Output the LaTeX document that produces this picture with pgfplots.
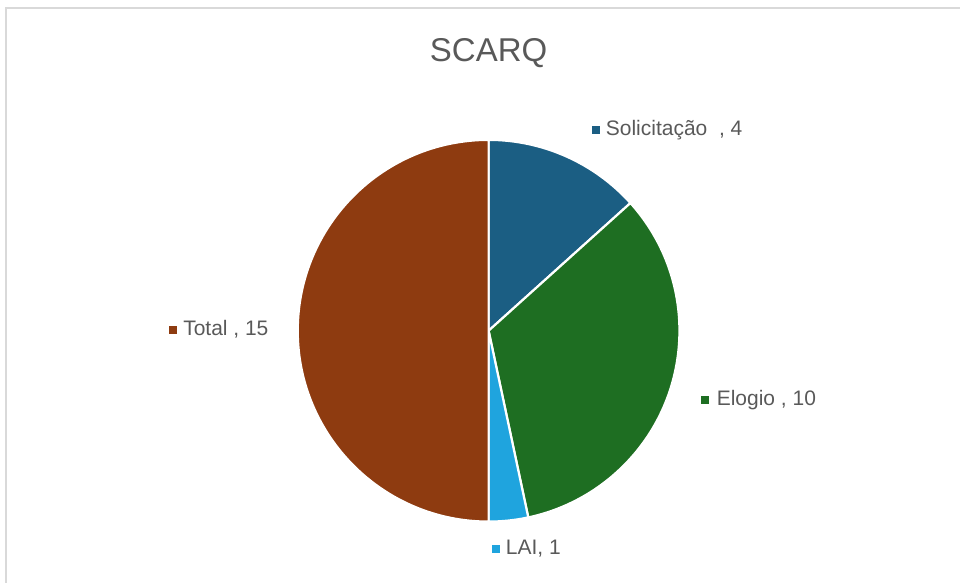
\documentclass[border=0pt]{standalone}
\usepackage{pgfplots}
\pgfplotsset{compat=1.18}
\usepackage{fontspec}
\setmainfont{Liberation Sans}
\definecolor{cSol}{HTML}{1B5E83}
\definecolor{cElo}{HTML}{1E6E22}
\definecolor{cLai}{HTML}{1FA4DE}
\definecolor{cTot}{HTML}{8E3B10}
\definecolor{txt}{HTML}{595959}
\definecolor{frame}{HTML}{D9D9D9}

\begin{document}
\begin{tikzpicture}
\begin{axis}[
  scale only axis,
  width=480.5pt, height=291.5pt,
  xmin=0, xmax=961, ymin=0, ymax=583,
  hide axis, clip=false,
  ]
  % invisible corners so the page keeps the reference size
  \addplot[draw=none, forget plot] coordinates {(0,0) (961,583)};
  % frame
  \draw[frame, line width=0.8pt] (axis cs:6,0) -- (axis cs:6,575) -- (axis cs:961,575);
  % pie: values 4, 10, 1, 15 of 30 -> 12 degrees per unit, clockwise from top
  \def\R{95.5pt}
  \fill[cSol, draw=white, line width=1.1pt] (axis cs:489,252) -- ++(90:\R) arc[start angle=90, delta angle=-4*12, radius=\R] -- cycle;
  \fill[cElo, draw=white, line width=1.1pt] (axis cs:489,252) -- ++(42:\R) arc[start angle=42, delta angle=-10*12, radius=\R] -- cycle;
  \fill[cLai, draw=white, line width=1.1pt] (axis cs:489,252) -- ++(-78:\R) arc[start angle=-78, delta angle=-1*12, radius=\R] -- cycle;
  \fill[cTot, draw=white, line width=1.1pt] (axis cs:489,252) -- ++(-90:\R) arc[start angle=-90, delta angle=-15*12, radius=\R] -- cycle;
  % title
  \node[txt, font=\fontsize{16.5}{18}\selectfont] at (axis cs:489,530) {SCARQ};
  % data labels
  \tikzset{lab/.style={txt, anchor=west, inner sep=0pt, font=\fontsize{10.5}{12}\selectfont},
           sq/.style={minimum size=4pt, inner sep=0pt}}
  \node[sq, fill=cSol] at (axis cs:596,453) {};
  \node[lab] at (axis cs:606,453) {Solicitação\ \ , 4};
  \node[sq, fill=cElo] at (axis cs:706,183) {};
  \node[lab] at (axis cs:717,183) {Elogio , 10};
  \node[sq, fill=cLai] at (axis cs:496,34) {};
  \node[lab] at (axis cs:506,34) {LAI, 1};
  \node[sq, fill=cTot] at (axis cs:173,253) {};
  \node[lab] at (axis cs:183,253) {Total , 15};
\end{axis}
\end{tikzpicture}
\end{document}
